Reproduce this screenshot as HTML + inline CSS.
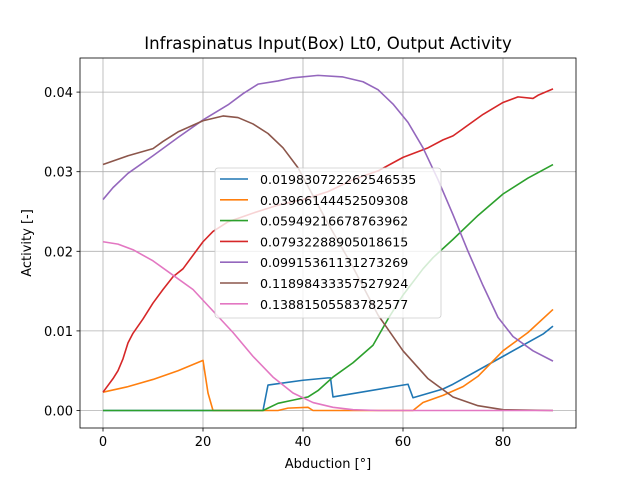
<!DOCTYPE html>
<html><head><meta charset="utf-8"><style>
body{margin:0;background:#fff;}
text{font-family:"DejaVu Sans","Liberation Sans",sans-serif;}
</style></head><body>
<svg id="chart" width="640" height="480" xmlns="http://www.w3.org/2000/svg"></svg>
<script>
const xTicks=[0,20,40,60,80];
const yTicks=[0,0.01,0.02,0.03,0.04];
const yTickLabels=["0.00","0.01","0.02","0.03","0.04"];
const seriesNames=["0.019830722262546535","0.03966144452509308","0.05949216678763962","0.07932288905018615","0.09915361131273269","0.11898433357527924","0.13881505583782577"];
const colors=["#1f77b4","#ff7f0e","#2ca02c","#d62728","#9467bd","#8c564b","#e377c2"];
const s0=[[0,0],[32,0],[33,0.0032],[40,0.0038],[45,0.0041],[45.5,0.0041],[46,0.0017],[61,0.0033],[62,0.0016],[68,0.0027],[70,0.0033],[80,0.0068],[88,0.0096],[90,0.0106]];
const s1=[[0,0.0023],[5,0.0030],[10,0.0039],[15,0.0050],[20,0.0063],[21,0.0022],[22,0],[35,0],[37,0.0003],[41,0.0004],[42,0],[62,0],[64,0.001],[68,0.0019],[72,0.003],[75,0.0043],[80,0.0075],[85,0.0098],[90,0.0127]];
const s2=[[0,0],[32,0],[33,0.0003],[35,0.0009],[38,0.0013],[41,0.0017],[43,0.0025],[46,0.0042],[50,0.006],[54,0.0082],[57,0.0115],[60,0.0145],[64,0.0178],[66,0.0192],[70,0.0215],[75,0.0245],[80,0.0272],[85,0.0292],[90,0.0309]];
const s3=[[0,0.0023],[2,0.004],[3,0.005],[4,0.0065],[5,0.0085],[6,0.0097],[8,0.0115],[10,0.0135],[12,0.0152],[14,0.0168],[16,0.0178],[18,0.0195],[20,0.0212],[22,0.0225],[25,0.0237],[30,0.0248],[35,0.0258],[40,0.0265],[45,0.0275],[50,0.029],[55,0.0301],[60,0.0318],[65,0.033],[68,0.034],[70,0.0345],[72,0.0354],[76,0.0372],[80,0.0387],[83,0.0394],[86,0.0392],[87,0.0396],[90,0.0404]];
const s4=[[0,0.0265],[2,0.0280],[5,0.0298],[10,0.0320],[15,0.0343],[20,0.0365],[25,0.0384],[28,0.0398],[31,0.0410],[35,0.0414],[38,0.0418],[43,0.0421],[48,0.0419],[52,0.0413],[55,0.0403],[58,0.0385],[61,0.0362],[64,0.0330],[67,0.0290],[70,0.0246],[73,0.0200],[76,0.0157],[79,0.0117],[82,0.0093],[86,0.0075],[90,0.0062]];
const s5=[[0,0.0309],[5,0.0320],[10,0.0329],[12,0.0338],[15,0.0350],[20,0.0364],[24,0.0370],[27,0.0368],[30,0.0360],[33,0.0348],[36,0.0330],[39,0.0305],[42,0.0270],[45,0.0235],[50,0.0180],[55,0.0120],[60,0.0075],[65,0.0040],[70,0.0017],[75,0.0006],[80,0.0001],[90,0]];
const s6=[[0,0.0212],[3,0.0209],[6,0.0202],[10,0.0188],[14,0.0170],[18,0.0152],[22,0.0125],[26,0.0098],[30,0.0068],[34,0.0042],[38,0.0022],[42,0.0010],[46,0.0004],[50,0.0001],[55,0],[90,0]];
const series=[s0,s1,s2,s3,s4,s5,s6];

const NS="http://www.w3.org/2000/svg";
const svg=document.getElementById('chart');
const L=80,R=576,T=58,B=428;
const xs=v=>103+v*5;
const ys=v=>410.5-v*7960;
function mk(tag,attrs,parent){const e=document.createElementNS(NS,tag);for(const k in attrs)e.setAttribute(k,attrs[k]);(parent||svg).appendChild(e);return e;}

xTicks.forEach(t=>{
  const g=mk('line',{x1:xs(t),x2:xs(t),y1:T,y2:B,stroke:'#b0b0b0','stroke-width':0.8});
  
  
  const tk=mk('line',{x1:xs(t),x2:xs(t),y1:B,y2:B+3.5,stroke:'#000','stroke-width':0.8});
  
  
  const tl=mk('text',{x:xs(t),y:B+18,'text-anchor':'middle','font-size':'13'});
  tl.textContent=t;
  
  
});
yTicks.forEach((t,i)=>{
  const g=mk('line',{x1:L,x2:R,y1:ys(t),y2:ys(t),stroke:'#b0b0b0','stroke-width':0.8});
  
  
  const tk=mk('line',{x1:L-3.5,x2:L,y1:ys(t),y2:ys(t),stroke:'#000','stroke-width':0.8});
  
  
  const tl=mk('text',{x:L-7,y:ys(t)+5,'text-anchor':'end','font-size':'13'});
  tl.textContent=yTickLabels[i];
  
  
});
series.forEach((s,i)=>{
  const p=mk('polyline',{points:s.map(d=>xs(d[0])+','+ys(d[1])).join(' '),fill:'none',stroke:colors[i],'stroke-width':1.6,'stroke-linejoin':'round'});
  
  
});
const frame=mk('rect',{x:L,y:T,width:R-L,height:B-T,fill:'none',stroke:'#000','stroke-width':0.8});



const title=mk('text',{x:328,y:49,'text-anchor':'middle','font-size':'16.6'});
title.textContent='Infraspinatus Input(Box) Lt0, Output Activity';


const xl=mk('text',{x:328,y:468,'text-anchor':'middle','font-size':'13'});
xl.textContent='Abduction [°]';


const yl=mk('text',{x:0,y:0,'text-anchor':'middle','font-size':'13',transform:'translate(31,243) rotate(-90)'});
yl.textContent='Activity [-]';



const lg=mk('g',{});


mk('rect',{x:215,y:168,width:226,height:150,rx:3,fill:'#fff','fill-opacity':0.8,stroke:'#cccccc','stroke-width':0.8},lg);
seriesNames.forEach((n,i)=>{
  const y=179+i*20.8;
  const e=mk('g',{},lg);
  
  
  mk('line',{x1:220,x2:248,y1:y,y2:y,stroke:colors[i],'stroke-width':1.6},e);
  const t=mk('text',{x:260,y:y+5,'font-size':'12.6'},e);
  t.textContent=n;
});
</script>
</body></html>
